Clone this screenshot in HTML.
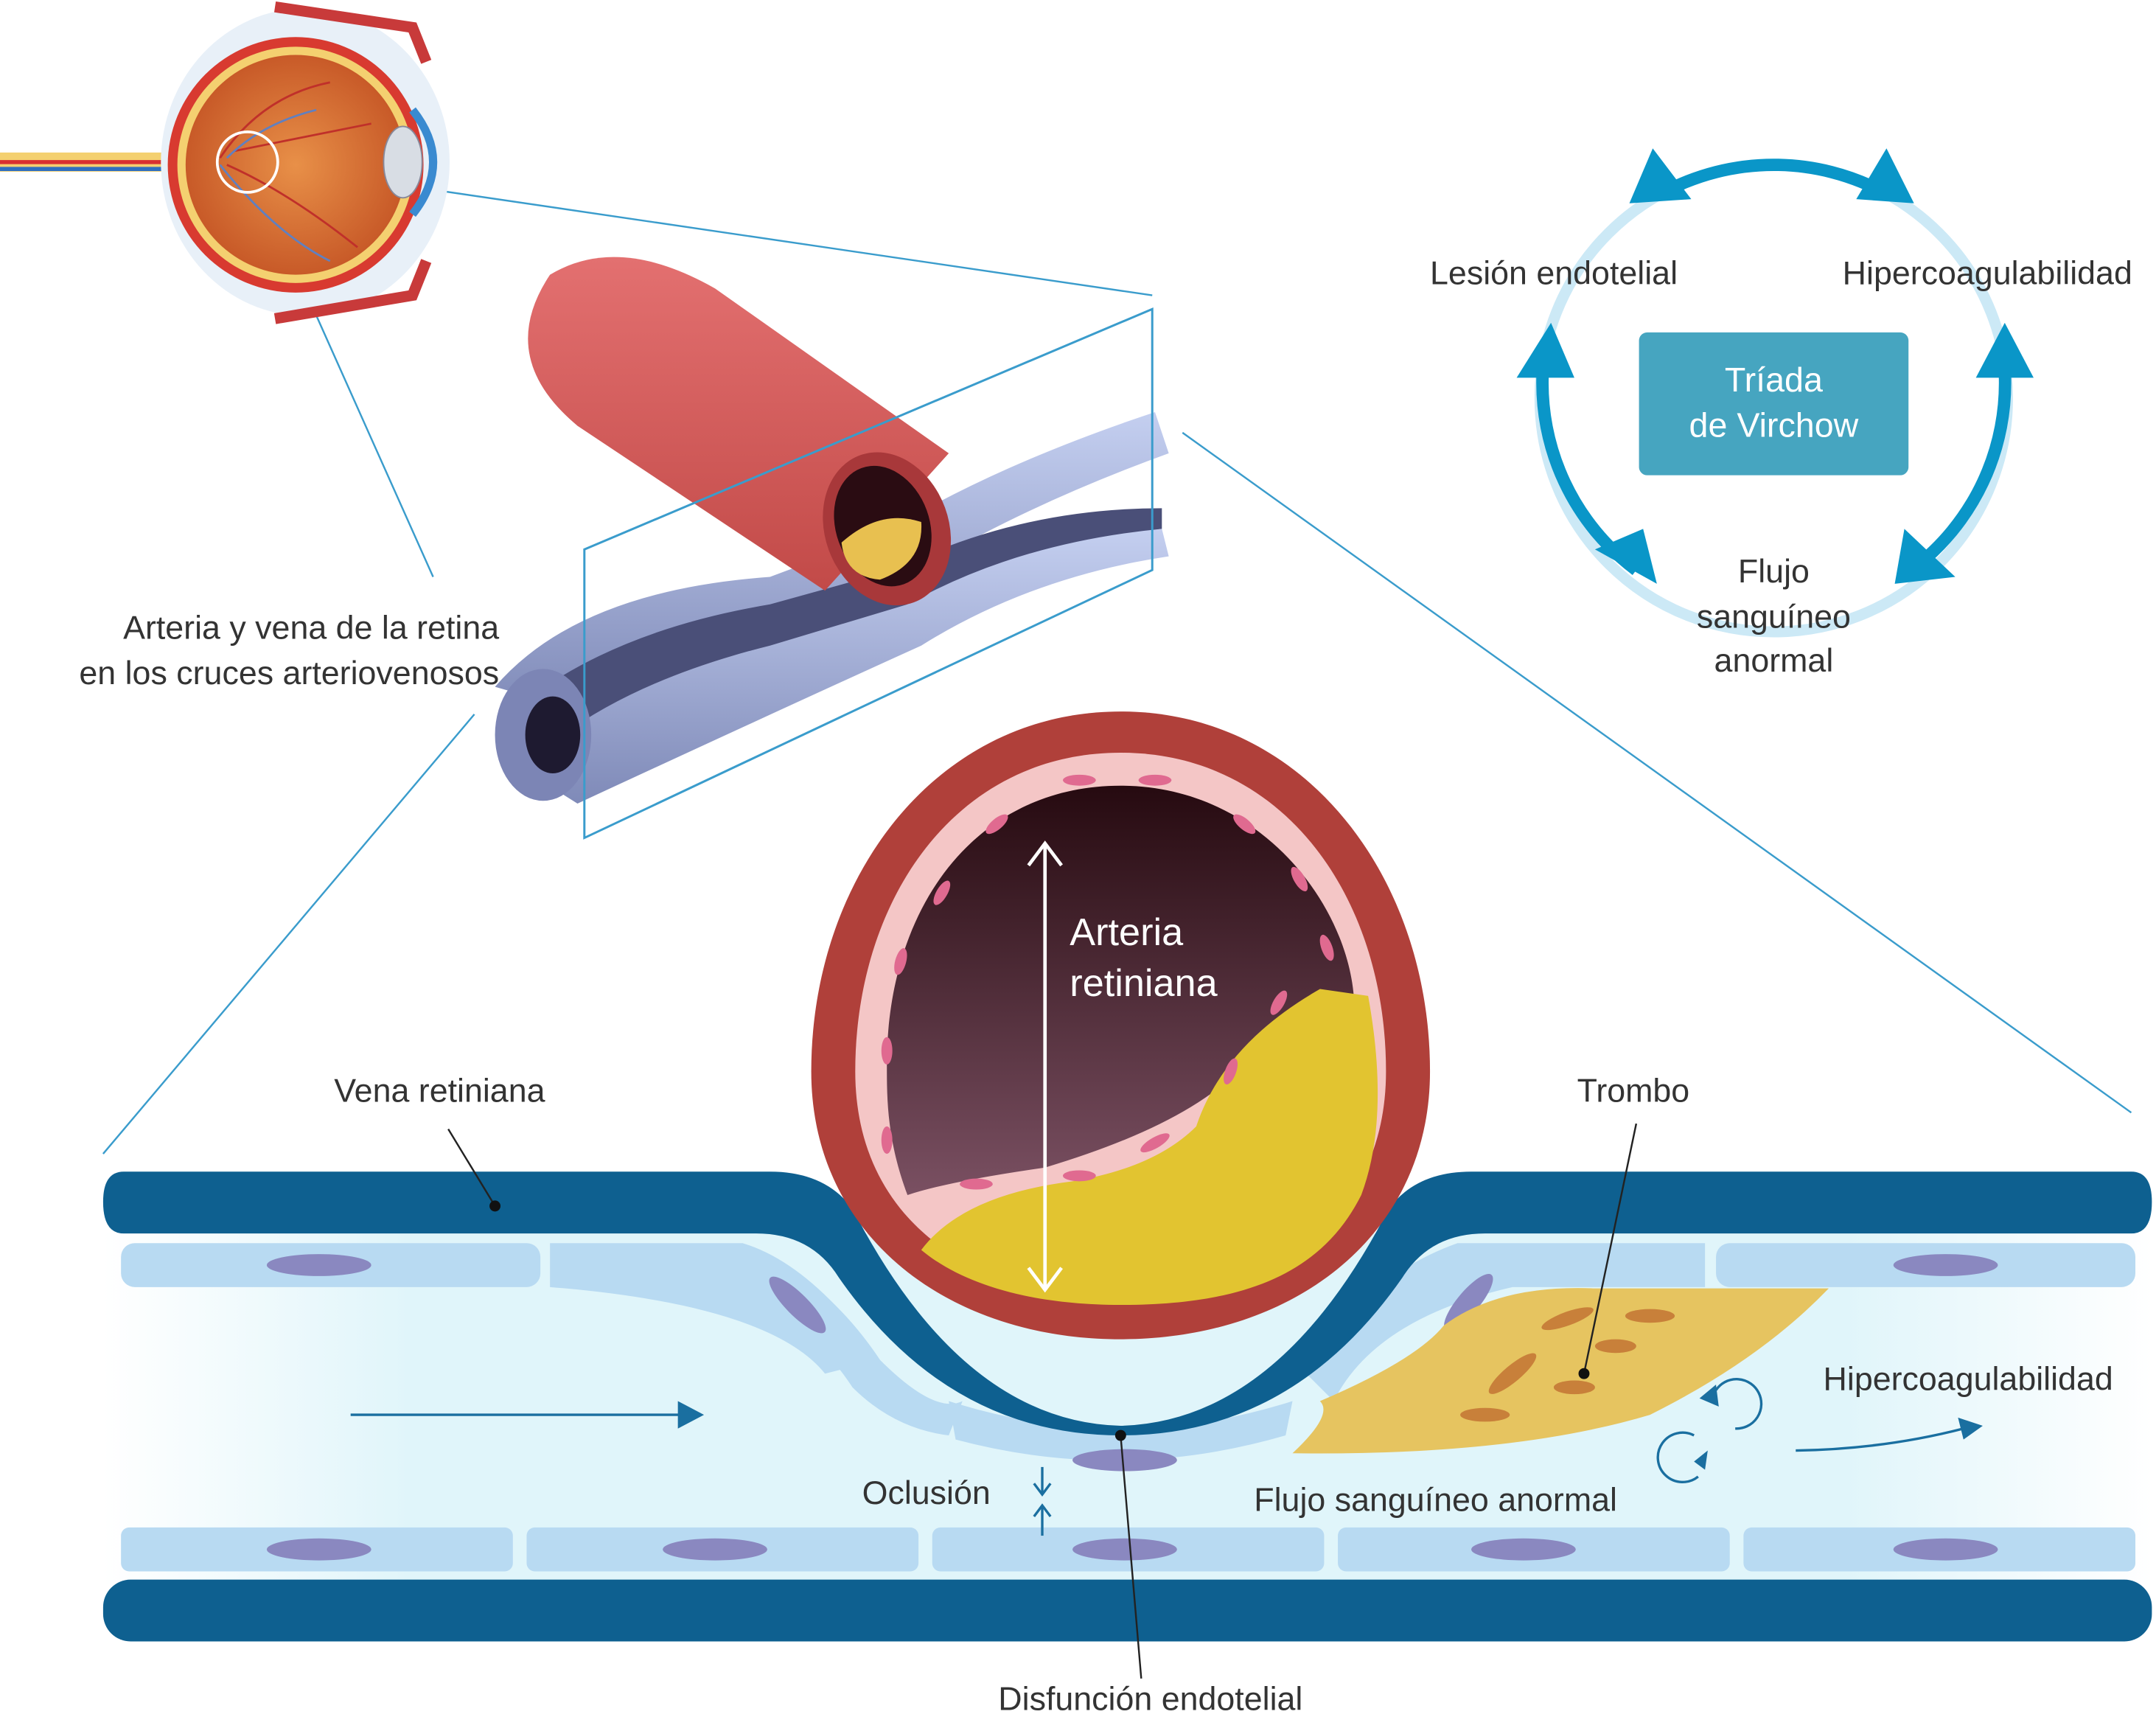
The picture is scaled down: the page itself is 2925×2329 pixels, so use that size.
<!DOCTYPE html>
<html><head><meta charset="utf-8"><style>
html,body{margin:0;padding:0;background:#fff}
svg{display:block}
text{font-family:"Liberation Sans",sans-serif;fill:#333}
</style></head><body>
<svg width="2925" height="2329" viewBox="0 0 1568 1250" preserveAspectRatio="none" xmlns="http://www.w3.org/2000/svg">
<defs>
<linearGradient id="lum" x1="0" y1="0" x2="1" y2="0">
<stop offset="0" stop-color="#fff"/><stop offset="0.15" stop-color="#e0f5fa"/><stop offset="0.85" stop-color="#e0f5fa"/><stop offset="1" stop-color="#fff"/></linearGradient>
<linearGradient id="art" x1="0" y1="0" x2="0" y2="1">
<stop offset="0" stop-color="#260a10"/><stop offset="1" stop-color="#7a5062"/></linearGradient>
<linearGradient id="red" x1="0" y1="0" x2="0" y2="1">
<stop offset="0" stop-color="#e37070"/><stop offset="1" stop-color="#c24a48"/></linearGradient>
<linearGradient id="blu" x1="0" y1="0" x2="0" y2="1">
<stop offset="0" stop-color="#c4cff0"/><stop offset="1" stop-color="#7f8ab8"/></linearGradient>
<radialGradient id="eye" cx="0.5" cy="0.5" r="0.5">
<stop offset="0" stop-color="#e89048"/><stop offset="1" stop-color="#c85a28"/></radialGradient>
</defs>
<rect width="1568" height="1250" fill="#fff"/>

<!-- connector lines -->
<g stroke="#3a9ccc" stroke-width="1.3" fill="none">
<line x1="205" y1="122" x2="838" y2="215"/>
<line x1="190" y1="140" x2="315" y2="420"/>
<line x1="860" y1="315" x2="1550" y2="810"/>
<line x1="345" y1="520" x2="75" y2="840"/>
</g>

<!-- eye -->
<g>
<path d="M0 118 L130 118" stroke="#f4d070" stroke-width="14"/>
<path d="M0 118 L130 118" stroke="#d83030" stroke-width="3"/>
<path d="M0 123 L130 123" stroke="#3070c0" stroke-width="3"/>
<ellipse cx="222" cy="118" rx="105" ry="112" fill="#e8f0f8"/>
<circle cx="215" cy="120" r="93" fill="#d83a30"/>
<circle cx="215" cy="120" r="86" fill="#f4d070"/>
<circle cx="215" cy="120" r="80" fill="url(#eye)"/>
<ellipse cx="293" cy="118" rx="14" ry="26" fill="#d8dde4" stroke="#889" stroke-width="1"/>
<path d="M300 80 Q330 118 300 156" stroke="#3a8ad0" stroke-width="6" fill="none"/>
<path d="M200 5 L300 20 L310 45" stroke="#c83a3a" stroke-width="8" fill="none"/>
<path d="M200 232 L300 215 L310 190" stroke="#c83a3a" stroke-width="8" fill="none"/>
<g stroke="#c0302a" stroke-width="1.5" fill="none"><path d="M160 115 Q190 70 240 60"/><path d="M165 120 Q210 140 260 180"/><path d="M170 110 Q220 100 270 90"/></g>
<g stroke="#6080c0" stroke-width="1.5" fill="none"><path d="M160 120 Q200 170 240 190"/><path d="M165 115 Q190 90 230 80"/></g>
<circle cx="180" cy="118" r="22" fill="none" stroke="#fff" stroke-width="2"/>
</g>

<!-- 3D vessels -->
<g>
<path d="M360 500 Q420 430 560 420 L640 390 Q720 340 840 300 L850 330 Q740 370 660 420 Q560 470 430 520 Z" fill="url(#blu)"/>
<path d="M370 520 Q440 460 560 440 L650 415 Q740 370 845 370 L845 385 Q740 400 660 440 Q560 490 430 560 Z" fill="#4a4f78"/>
<path d="M380 560 Q440 500 560 470 L660 440 Q740 395 845 385 L850 405 Q750 420 670 470 Q560 520 420 585 Z" fill="url(#blu)"/>
<ellipse cx="395" cy="535" rx="35" ry="48" fill="#7c85b5"/>
<ellipse cx="402" cy="535" rx="20" ry="28" fill="#1e1a30"/>
<path d="M400 200 Q450 170 520 210 L690 330 L600 430 L420 310 Q360 260 400 200 Z" fill="url(#red)"/>
<ellipse cx="645" cy="385" rx="45" ry="57" transform="rotate(-20 645 385)" fill="#a8383a"/>
<ellipse cx="642" cy="383" rx="34" ry="45" transform="rotate(-20 642 383)" fill="#2a0c12"/>
<path d="M612 395 Q640 370 670 380 Q672 410 640 422 Q615 420 612 395 Z" fill="#e8c050"/>
<path d="M425 400 L838 225 L838 415 L425 610 Z" fill="none" stroke="#3a9ccc" stroke-width="1.6"/>
</g>
<text x="363" y="465" font-size="24" text-anchor="end">Arteria y vena de la retina</text>
<text x="363" y="498" font-size="24" text-anchor="end">en los cruces arteriovenosos</text>

<!-- Virchow -->
<circle cx="1290" cy="290" r="170" fill="none" stroke="#cce9f6" stroke-width="8"/>
<g stroke="#0a96c8" stroke-width="9" fill="none">
<path d="M1210 140 A170 170 0 0 1 1370 140"/>
<path d="M1122 270 A170 170 0 0 0 1190 415"/>
<path d="M1458 270 A170 170 0 0 1 1390 415"/>
</g>
<g fill="#0a96c8">
<polygon points="1185,148 1230,145 1202,108"/>
<polygon points="1350,145 1392,148 1372,108"/>
<polygon points="1103,275 1145,275 1128,235"/>
<polygon points="1437,275 1479,275 1458,235"/>
<polygon points="1160,400 1205,425 1195,385"/>
<polygon points="1385,385 1378,425 1422,420"/>
</g>
<rect x="1192" y="242" width="196" height="104" rx="6" fill="#46a5c0"/>
<text x="1290" y="285" font-size="25" text-anchor="middle" style="fill:#fff">Tríada</text>
<text x="1290" y="318" font-size="25" text-anchor="middle" style="fill:#fff">de Virchow</text>
<text x="1040" y="207" font-size="24">Lesión endotelial</text>
<text x="1340" y="207" font-size="24">Hipercoagulabilidad</text>
<text x="1290" y="424" font-size="24" text-anchor="middle">Flujo</text>
<text x="1290" y="457" font-size="24" text-anchor="middle">sanguíneo</text>
<text x="1290" y="489" font-size="24" text-anchor="middle">anormal</text>

<!-- vein section -->
<rect x="75" y="898" width="1490" height="255" fill="url(#lum)"/>
<!-- top endothelium -->
<g fill="#b8daf2">
<rect x="88" y="905" width="305" height="32" rx="10"/>
<path d="M400 905 L540 905 Q600 930 640 990 L600 1000 Q560 950 400 937 Z"/>
<path d="M1060 905 L1240 905 L1240 937 L1100 937 Q1000 960 970 1020 L950 1000 Q990 930 1060 905 Z"/>
<rect x="1248" y="905" width="305" height="32" rx="10"/>
<path d="M540 905 Q590 920 640 990 Q680 1030 700 1020 L690 1045 Q650 1040 620 1010 Q580 950 520 930 Z"/>
<path d="M690 1020 Q815 1060 940 1020 L935 1045 Q815 1080 695 1048 Z"/>
</g>
<g fill="#8a88c0">
<ellipse cx="232" cy="921" rx="38" ry="8"/><ellipse cx="1415" cy="921" rx="38" ry="8"/>
<ellipse cx="580" cy="950" rx="28" ry="8" transform="rotate(45 580 950)"/>
<ellipse cx="1068" cy="948" rx="26" ry="8" transform="rotate(-50 1068 948)"/>
<ellipse cx="818" cy="1063" rx="38" ry="8"/>
</g>
<!-- top wall -->
<path d="M90 853 L560 853 Q600 853 620 880 Q700 1035 815 1038 Q930 1035 1010 880 Q1030 853 1070 853 L1550 853 Q1565 853 1565 875 Q1565 898 1550 898 L1080 898 Q1040 898 1020 930 Q940 1045 815 1045 Q690 1045 610 930 Q590 898 550 898 L90 898 Q75 898 75 875 Q75 853 90 853 Z" fill="#0e6090"/>
<!-- thrombus -->
<path d="M940 1058 Q970 1030 960 1020 Q1030 990 1050 965 Q1090 935 1160 938 L1330 938 Q1280 990 1200 1030 Q1100 1060 940 1058 Z" fill="#e6c460"/>
<g fill="#c8803a">
<ellipse cx="1140" cy="960" rx="20" ry="5" transform="rotate(-20 1140 960)"/>
<ellipse cx="1200" cy="958" rx="18" ry="5"/>
<ellipse cx="1100" cy="1000" rx="22" ry="6" transform="rotate(-40 1100 1000)"/>
<ellipse cx="1175" cy="980" rx="15" ry="5"/>
<ellipse cx="1080" cy="1030" rx="18" ry="5"/>
<ellipse cx="1145" cy="1010" rx="15" ry="5"/>
</g>
<!-- bottom endothelium -->
<g fill="#b8daf2">
<rect x="88" y="1112" width="285" height="32" rx="6"/>
<rect x="383" y="1112" width="285" height="32" rx="6"/>
<rect x="678" y="1112" width="285" height="32" rx="6"/>
<rect x="973" y="1112" width="285" height="32" rx="6"/>
<rect x="1268" y="1112" width="285" height="32" rx="6"/>
</g>
<g fill="#8a88c0">
<ellipse cx="232" cy="1128" rx="38" ry="8"/><ellipse cx="520" cy="1128" rx="38" ry="8"/>
<ellipse cx="818" cy="1128" rx="38" ry="8"/><ellipse cx="1108" cy="1128" rx="38" ry="8"/>
<ellipse cx="1415" cy="1128" rx="38" ry="8"/>
</g>
<rect x="75" y="1150" width="1490" height="45" rx="20" fill="#0e6090"/>

<!-- artery cross-section -->
<path d="M815 518 C950 518 1040 640 1040 780 C1040 900 940 975 815 975 C690 975 590 900 590 780 C590 640 680 518 815 518 Z" fill="#b0403a"/>
<path d="M815 548 C935 548 1008 655 1008 780 C1008 890 920 945 815 945 C710 945 622 890 622 780 C622 655 695 548 815 548 Z" fill="#f4c6c6"/>
<path d="M815 572 C920 572 985 665 985 735 L900 780 Q860 820 760 850 Q690 860 660 870 C645 830 645 800 645 775 C645 660 710 572 815 572 Z" fill="url(#art)"/>
<path d="M670 910 Q700 870 780 860 Q840 850 870 820 Q890 760 960 720 L995 725 C1005 780 1005 830 990 870 C960 930 900 950 815 950 C750 950 700 935 670 910 Z" fill="#e2c430"/>
<g fill="#e06a90">
<ellipse cx="785" cy="568" rx="12" ry="4"/><ellipse cx="840" cy="568" rx="12" ry="4"/>
<ellipse cx="725" cy="600" rx="10" ry="4" transform="rotate(-40 725 600)"/>
<ellipse cx="905" cy="600" rx="10" ry="4" transform="rotate(40 905 600)"/>
<ellipse cx="685" cy="650" rx="10" ry="4" transform="rotate(-60 685 650)"/>
<ellipse cx="945" cy="640" rx="10" ry="4" transform="rotate(60 945 640)"/>
<ellipse cx="655" cy="700" rx="10" ry="4" transform="rotate(-75 655 700)"/>
<ellipse cx="645" cy="765" rx="10" ry="4" transform="rotate(90 645 765)"/>
<ellipse cx="645" cy="830" rx="10" ry="4" transform="rotate(90 645 830)"/>
<ellipse cx="965" cy="690" rx="10" ry="4" transform="rotate(70 965 690)"/>
<ellipse cx="930" cy="730" rx="10" ry="4" transform="rotate(-60 930 730)"/>
<ellipse cx="895" cy="780" rx="10" ry="4" transform="rotate(-70 895 780)"/>
<ellipse cx="840" cy="832" rx="12" ry="4" transform="rotate(-30 840 832)"/>
<ellipse cx="785" cy="856" rx="12" ry="4"/><ellipse cx="710" cy="862" rx="12" ry="4"/>
</g>
<g stroke="#fff" stroke-width="2.5" fill="none">
<line x1="760" y1="615" x2="760" y2="938"/>
<polyline points="748,630 760,614 772,630"/>
<polyline points="748,923 760,939 772,923"/>
</g>
<text x="778" y="688" font-size="28" style="fill:#fff">Arteria</text>
<text x="778" y="725" font-size="28" style="fill:#fff">retiniana</text>

<!-- flow arrows -->
<g stroke="#1a6fa0" stroke-width="1.8" fill="none">
<line x1="255" y1="1030" x2="495" y2="1030"/>
<path d="M1306 1056 Q1370 1055 1428 1040"/>
<path d="M1248 1012 A18 18 0 1 1 1262 1040"/>
<path d="M1232 1045 A18 18 0 1 0 1235 1075"/>
<line x1="758" y1="1068" x2="758" y2="1087"/><polyline points="752,1080 758,1088 764,1080"/>
<line x1="758" y1="1118" x2="758" y2="1097"/><polyline points="752,1104 758,1096 764,1104"/>
</g>
<g fill="#1a6fa0">
<polygon points="493,1020 512,1030 493,1040"/>
<polygon points="1424,1032 1442,1038 1428,1048"/>
<polygon points="1236,1018 1248,1008 1250,1024"/>
<polygon points="1232,1064 1242,1056 1240,1070"/>
</g>

<!-- leaders -->
<g stroke="#222" stroke-width="1.3">
<line x1="326" y1="822" x2="360" y2="878"/>
<line x1="1190" y1="818" x2="1152" y2="1000"/>
<line x1="815" y1="1045" x2="830" y2="1222"/>
</g>
<g fill="#111"><circle cx="360" cy="878" r="4"/><circle cx="1152" cy="1000" r="4"/><circle cx="815" cy="1045" r="4"/></g>
<text x="243" y="802" font-size="24">Vena retiniana</text>
<text x="1147" y="802" font-size="24">Trombo</text>
<text x="1326" y="1012" font-size="24">Hipercoagulabilidad</text>
<text x="912" y="1100" font-size="24">Flujo sanguíneo anormal</text>
<text x="627" y="1095" font-size="24">Oclusión</text>
<text x="726" y="1245" font-size="24">Disfunción endotelial</text>
</svg>
</body></html>
